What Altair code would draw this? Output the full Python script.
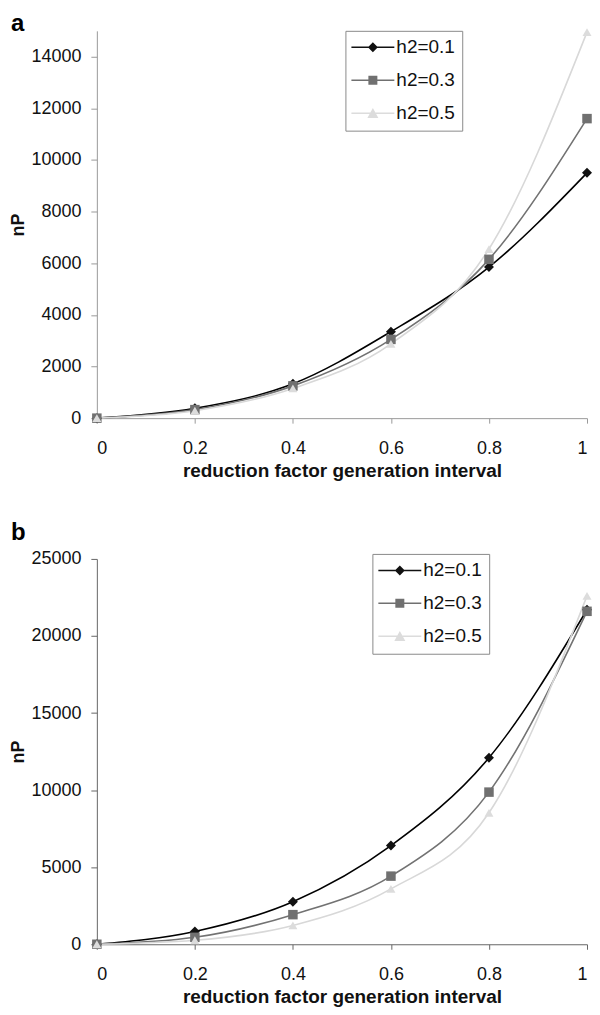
import altair as alt
import pandas as pd

# ---- data ----
x_vals = [0, 0.2, 0.4, 0.6, 0.8, 1.0]
series = ["h2=0.1", "h2=0.3", "h2=0.5"]

a_h01 = [0, 380, 1330, 3350, 5850, 9500]
a_h03 = [0, 330, 1250, 3050, 6150, 11600]
a_h05 = [0, 290, 1150, 2880, 6550, 14950]

b_h01 = [0, 830, 2760, 6400, 12100, 21700]
b_h03 = [0, 450, 1920, 4420, 9870, 21600]
b_h05 = [0, 260, 1220, 3590, 8530, 22600]

a_ticks = [0, 2000, 4000, 6000, 8000, 10000, 12000, 14000]
b_ticks = [0, 5000, 10000, 15000, 20000, 25000]

line_colors = ["#000000", "#727272", "#d8d8d8"]
marker_colors = ["#111111", "#707070", "#dcdcdc"]
shapes = ["diamond", "square", "triangle-up"]

# legend symbols: a short line with the marker on it (unit = 2 px)
leg_paths = [
    "M-10.75,-0.375L10.75,-0.375L10.75,0.375L-10.75,0.375Z"
    "M0,-2.5L2.5,0L0,2.5L-2.5,0Z",
    "M-10.75,-0.375L10.75,-0.375L10.75,0.375L-10.75,0.375Z"
    "M-2.25,-2.25L2.25,-2.25L2.25,2.25L-2.25,2.25Z",
    "M-10.75,-0.375L10.75,-0.375L10.75,0.375L-10.75,0.375Z"
    "M0,-2.6L2.75,2.4L-2.75,2.4Z",
]

FONT = "Liberation Sans"


def make_df(vals):
    rows = []
    for s, ys in zip(series, vals):
        for xv, yv in zip(x_vals, ys):
            rows.append({"x": xv, "y": yv, "series": s, "legend_series": s})
    return pd.DataFrame(rows)


def panel(df, letter, ymax, yticks, axis_color, leg_x, leg_y, title_offset, height):
    xenc = alt.X(
        "x:Q",
        scale=alt.Scale(domain=[0, 1], nice=False, zero=True),
        axis=alt.Axis(
            title="reduction factor generation interval",
            values=x_vals, format=".1~f", grid=False,
            domainColor=axis_color, tickColor=axis_color, tickSize=5,
            labelFontSize=18, labelFont=FONT, labelColor="#111",
            labelPadding=16, titleFontSize=19, titleFont=FONT,
            titleFontWeight="bold", titleColor="#111", titlePadding=4,
        ),
    )
    yenc = alt.Y(
        "y:Q",
        scale=alt.Scale(domain=[0, ymax], nice=False),
        axis=alt.Axis(
            title="nP", values=yticks, format="d", grid=False,
            domainColor=axis_color, tickColor=axis_color, tickSize=6,
            labelFontSize=18, labelFont=FONT, labelColor="#111",
            labelPadding=10, titleFontSize=18, titleFont=FONT,
            titleFontWeight="bold", titleColor="#111", titlePadding=3,
        ),
    )
    base = alt.Chart(df)
    lines = base.mark_line(interpolate="monotone", strokeWidth=1.6).encode(
        x=xenc, y=yenc,
        color=alt.Color("series:N", scale=alt.Scale(domain=series, range=line_colors), legend=None),
        detail="series:N",
    )
    points = base.mark_point(filled=True, opacity=1).encode(
        x=xenc, y=yenc,
        color=alt.Color("series:N", scale=alt.Scale(domain=series, range=marker_colors), legend=None),
        shape=alt.Shape("series:N", scale=alt.Scale(domain=series, range=shapes), legend=None),
        size=alt.Size("series:N", scale=alt.Scale(domain=series, range=[100, 81, 120]), legend=None),
    )
    leg = alt.Legend(
        title=None, orient="none", legendX=leg_x, legendY=leg_y,
        labelFont=FONT, labelFontSize=19, labelColor="#111",
        symbolSize=16, symbolOpacity=1, symbolStrokeWidth=0,
        padding=7, rowPadding=13, symbolOffset=11, labelOffset=14,
        strokeColor="#8a8a8a", fillColor="#ffffff",
    )
    dummy = base.transform_filter("false").mark_point(filled=True, opacity=1).encode(
        x=xenc, y=yenc,
        color=alt.Color("legend_series:N", scale=alt.Scale(domain=series, range=marker_colors), legend=leg),
        shape=alt.Shape("legend_series:N", scale=alt.Scale(domain=series, range=leg_paths), legend=leg),
    )
    return alt.layer(lines, points, dummy).resolve_scale(
        color="independent", shape="independent", size="independent"
    ).properties(
        width=491, height=height,
        title=alt.TitleParams(letter, anchor="start", frame="group", fontSize=24, font=FONT,
                              fontWeight="bold", color="#000", dx=-86, offset=title_offset),
    )


pa = panel(make_df([a_h01, a_h03, a_h05]), "a", 15000, a_ticks, "#9a9a9a", 249, 0, -8, 388)
pb = panel(make_df([b_h01, b_h03, b_h05]), "b", 25000, b_ticks, "#666666", 276, -5, 5, 386)

chart = alt.vconcat(pa, pb, spacing=41).configure(
    padding={"top": 3, "left": 1, "right": 0, "bottom": 0}, background="#ffffff"
).configure_view(stroke=None)

chart.save("out.html", embed_options={"renderer": "svg", "actions": False})
